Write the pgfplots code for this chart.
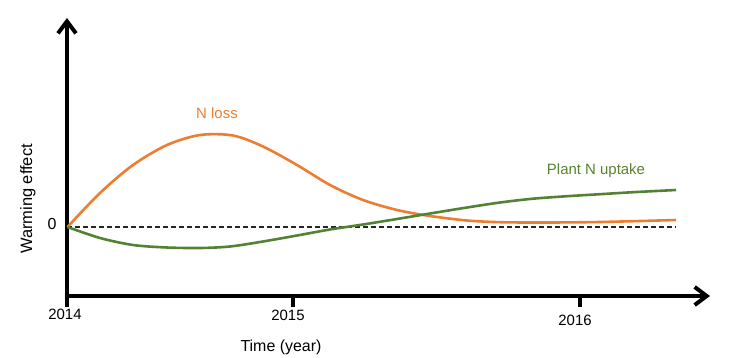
\documentclass[border=0pt]{standalone}
\usepackage{pgfplots}
\pgfplotsset{compat=1.18}
\usepackage{fontspec}
\setmainfont{Liberation Sans}
\usetikzlibrary{arrows.meta}
\definecolor{lossorange}{RGB}{237,125,49}
\definecolor{uptakegreen}{RGB}{84,130,53}
\begin{document}
\begin{tikzpicture}
\begin{axis}[
  x=1bp, y=1bp,
  xmin=67, xmax=710, ymin=-69, ymax=209,
  axis x line=bottom, axis y line=left,
  axis line style={line width=4bp, -{Straight Barb[length=12bp,width=18bp]}},
  xtick={67,293,580}, xticklabels={},
  ytick=\empty,
  tick align=outside,
  major tick length=11bp,
  x tick style={line width=4bp, black},
  clip=false,
  font=\fontsize{15}{17}\selectfont,
]
\path (axis cs:0,-129) rectangle (axis cs:731,227);
\addplot[black!85, line width=1.3bp, dash pattern=on 5bp off 3bp] coordinates {(67,0) (676,0)};
\addplot[lossorange, line width=2.6bp, smooth] coordinates {
(67.5,0) (100,34) (133,62) (167,82) (200,92) (233,91.5) (263,80.5) (297,62)
(330,42) (363,27) (397,17) (430,11) (467,6.5) (500,4.8) (533,4.5) (567,4.6) (600,5)
(633,5.8) (676,7)};
\addplot[uptakegreen, line width=2.6bp, smooth] coordinates {
(67.5,0) (100,-11) (133,-18) (167,-20.5) (200,-21) (230,-19.5) (263,-14.5) (297,-8.5)
(330,-2.5) (363,2.5) (397,8) (430,13.5) (467,19.5) (500,24.5) (533,28.3) (567,30.8)
(600,32.8) (633,34.8) (676,37)};
\node[lossorange] at (axis cs:217,114) {N loss};
\node[uptakegreen!90!olive] at (axis cs:596,56) {Plant N uptake};
\node[rotate=90, font=\fontsize{16.5}{18}\selectfont] at (axis cs:28,28) {Warming effect};
\node[font=\fontsize{16}{18}\selectfont] at (axis cs:281,-120) {Time (year)};
\node[font=\fontsize{16}{18}\selectfont] at (axis cs:52,3) {0};
\node at (axis cs:65,-87) {2014};
\node at (axis cs:288,-88) {2015};
\node at (axis cs:575,-93) {2016};
\end{axis}
\end{tikzpicture}
\end{document}
